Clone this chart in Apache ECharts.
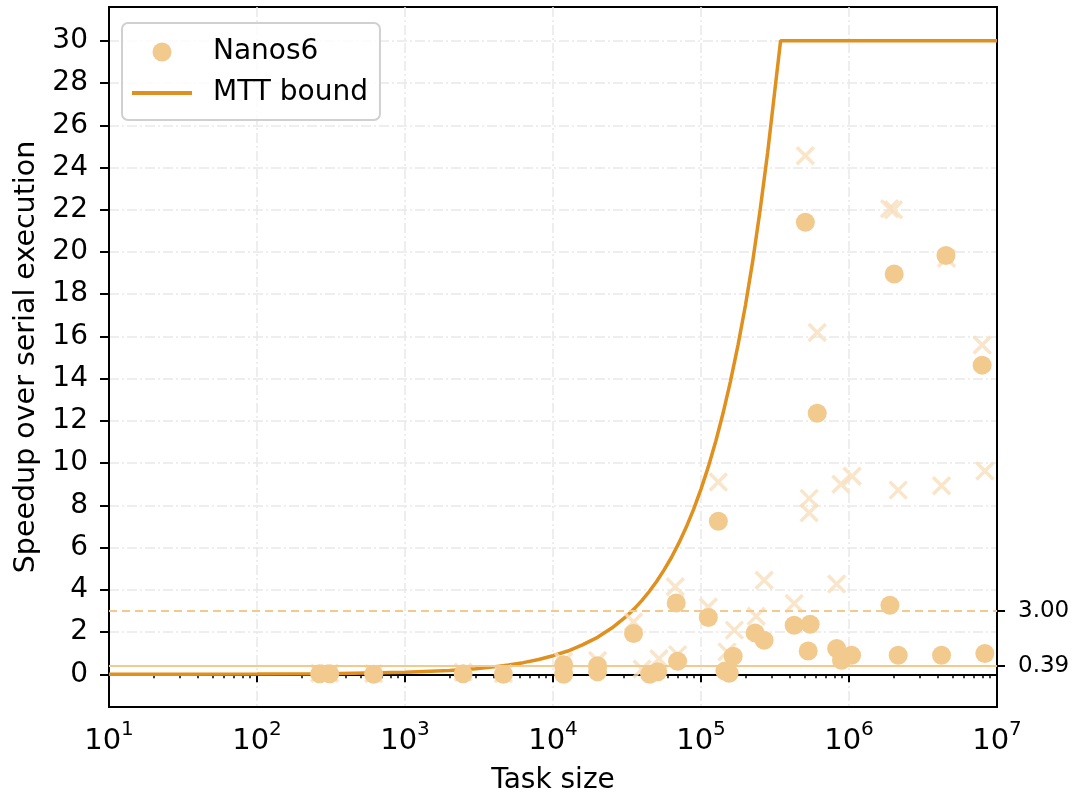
<!DOCTYPE html>
<html>
<head>
<meta charset="utf-8">
<script src="https://cdn.jsdelivr.net/npm/echarts@6/dist/echarts.min.js"></script>
<style>
html,body{margin:0;padding:0;background:#ffffff;}
#chart{width:1074px;height:795px;}
</style>
</head>
<body>
<div id="chart"></div>
<script>
// ---------------- data ----------------
const circleTaskSize = [265, 310, 614, 2470, 4620, 11800, 11800, 20000, 20000, 35000, 45000, 51000, 68000, 69500,
  112000, 131000, 145000, 155000, 165000, 232000, 267000, 426000, 507000, 530000, 546000, 610000,
  825000, 890000, 1040000, 1890000, 2020000, 2150000, 4220000, 4520000, 7940000, 8280000];
const circleSpeedup = [0.02, 0.02, 0.0, 0.02, 0.0, 0.45, 0.0, 0.4, 0.12, 1.93, 0.0, 0.12, 3.38, 0.62,
  2.69, 7.25, 0.15, 0.05, 0.85, 1.96, 1.61, 2.32, 21.41, 1.1, 2.37, 12.36,
  1.22, 0.66, 0.9, 3.27, 18.96, 0.9, 0.9, 19.83, 14.64, 0.98];

const crossTaskSize = [265, 310, 614, 2470, 4620, 11800, 20000, 35000, 40000, 52000, 67000, 69500, 112000,
  131000, 150000, 168000, 236000, 267000, 426000, 507000, 538000, 538000, 610000, 825000, 883000,
  1050000, 1880000, 2000000, 2150000, 4220000, 4560000, 7940000, 8280000];
const crossSpeedup = [0.05, 0.05, 0.02, 0.1, 0.02, 0.6, 0.65, 2.48, 0.25, 0.74, 4.14, 0.93, 3.19,
  9.11, 1.06, 2.09, 2.75, 4.45, 3.35, 24.56, 8.33, 7.65, 16.19, 4.27, 9.0,
  9.38, 22.05, 22.0, 8.72, 8.93, 19.7, 15.59, 9.63];

const boundTaskSize = [10, 30, 100, 300, 1000, 2000, 3000, 4000, 5000, 6300, 8000, 10000, 12600, 15800,
  20000, 25100, 31600, 35500, 39800, 44700, 50100, 56200, 63100, 70800, 79400, 89100, 100000, 112000,
  126000, 141000, 158000, 178000, 200000, 224000, 251000, 282000, 316000, 345000, 10000000];
const boundSpeedup = [0.0, 0.0, 0.01, 0.03, 0.09, 0.18, 0.26, 0.35, 0.44, 0.55, 0.7, 0.88, 1.1, 1.39,
  1.75, 2.2, 2.77, 3.11, 3.49, 3.92, 4.39, 4.93, 5.53, 6.21, 6.96, 7.81, 8.77, 9.82,
  11.05, 12.37, 13.86, 15.6, 17.5, 19.6, 22.0, 24.7, 27.7, 30.0, 30.0];

const refLineValues = [3.00, 0.39];
const yTickValues = [0, 2, 4, 6, 8, 10, 12, 14, 16, 18, 20, 22, 24, 26, 28, 30];
const xTickExponents = ['1', '2', '3', '4', '5', '6', '7'];
const minorTickMultipliers = [2, 3, 4, 5, 6, 7, 8, 9];
const minorTickDecades = [1, 2, 3, 4, 5, 6];

// ---------------- styles ----------------
const FONT = 'DejaVu Sans';
const lineColor = '#e0901e';
const circleColor = '#f2ca8e';
const crossColor = '#f7dfbd';
const refColor = '#f2ca8e';
const gridColor = '#e9e9e9';
const gridDash = [10, 3, 2, 3];

const zip = (a, b) => a.map((v, i) => [v, b[i]]);
const minorLogPositions = [];
minorTickDecades.forEach(d => minorTickMultipliers.forEach(m => minorLogPositions.push(Math.log10(m) + d)));

const chart = echarts.init(document.getElementById('chart'), null, {renderer: 'canvas'});
const option = {
  animation: false,
  backgroundColor: '#ffffff',
  textStyle: {fontFamily: FONT, color: '#000'},
  grid: {
    left: 109, right: 77, top: 7, bottom: 88,
    show: true, borderColor: '#000', borderWidth: 2, backgroundColor: 'transparent',
    outerBoundsMode: 'none'
  },
  legend: {
    orient: 'vertical',
    left: 122, top: 23,
    padding: [15, 12, 13, 10],
    itemGap: 13,
    itemWidth: 60, itemHeight: 19,
    backgroundColor: 'rgba(255,255,255,0.8)',
    borderColor: '#d0d0d0', borderWidth: 2, borderRadius: 6,
    textStyle: {fontFamily: FONT, fontSize: 28, color: '#000', padding: [0, 0, 0, 16]},
    data: [
      {name: 'Nanos6', icon: 'circle'},
      {name: 'MTT bound', icon: 'path://M0,0H60V4H0Z'}
    ]
  },
  xAxis: [
    {
      type: 'log', logBase: 10, min: 10, max: 10000000,
      position: 'bottom',
      name: 'Task size', nameLocation: 'middle', nameGap: 60,
      nameTextStyle: {fontFamily: FONT, fontSize: 28, color: '#000'},
      axisLine: {show: true, lineStyle: {color: '#000', width: 2}},
      axisTick: {show: true, length: 8, lineStyle: {color: '#000', width: 2}},
      axisLabel: {
        margin: 13,
        formatter: v => '{b|10}{s|' + xTickExponents[Math.round(Math.log10(v)) - 1] + '}',
        rich: {
          b: {fontFamily: FONT, fontSize: 29, color: '#000', verticalAlign: 'bottom', lineHeight: 36},
          s: {fontFamily: FONT, fontSize: 20, color: '#000', verticalAlign: 'top', lineHeight: 20}
        }
      },
      splitLine: {show: true, lineStyle: {color: gridColor, width: 1.5, type: gridDash}}
    },
    {
      type: 'value', min: 1, max: 7, position: 'bottom',
      axisLine: {show: false},
      axisTick: {show: true, length: 4, customValues: minorLogPositions, lineStyle: {color: '#000', width: 1.5}},
      axisLabel: {show: false},
      splitLine: {show: false}
    }
  ],
  yAxis: [
    {
      type: 'value', min: -1.55, max: 31.6, position: 'left',
      name: 'Speedup over serial execution', nameLocation: 'middle', nameGap: 65,
      nameTextStyle: {fontFamily: FONT, fontSize: 28.5, color: '#000'},
      axisLine: {show: true, lineStyle: {color: '#000', width: 2}},
      axisTick: {show: true, length: 9, customValues: yTickValues, lineStyle: {color: '#000', width: 2}},
      axisLabel: {customValues: yTickValues, margin: 21, fontFamily: FONT, fontSize: 28, color: '#000'},
      splitLine: {show: true, lineStyle: {color: gridColor, width: 1.5, type: gridDash}}
    },
    {
      type: 'value', min: -1.55, max: 31.6, position: 'right',
      axisLine: {show: true, lineStyle: {color: '#000', width: 2}},
      axisTick: {show: true, length: 8, customValues: refLineValues, lineStyle: {color: '#000', width: 2}},
      axisLabel: {customValues: refLineValues, margin: 21, fontFamily: FONT, fontSize: 23, color: '#000',
        formatter: v => v.toFixed(2)},
      splitLine: {show: false}
    }
  ],
  series: [
    {
      name: 'MTT bound', type: 'line', xAxisIndex: 0, yAxisIndex: 0,
      data: zip(boundTaskSize, boundSpeedup),
      symbol: 'none', showSymbol: false, smooth: false,
      color: lineColor,
      lineStyle: {color: lineColor, width: 3.5},
      z: 2,
      markLine: {
        silent: true, symbol: ['none', 'none'],
        label: {show: false},
        data: [
          {yAxis: refLineValues[0], lineStyle: {color: refColor, width: 2, type: [8, 5]}},
          {yAxis: refLineValues[1], lineStyle: {color: refColor, width: 2, type: 'solid'}}
        ]
      }
    },
    {
      name: 'crosses', type: 'scatter', xAxisIndex: 0, yAxisIndex: 0,
      data: zip(crossTaskSize, crossSpeedup),
      symbol: 'path://M0,0L10,10M10,0L0,10',
      symbolSize: 17,
      itemStyle: {color: 'rgba(0,0,0,0)', borderColor: crossColor, borderWidth: 3.5},
      z: 3
    },
    {
      name: 'Nanos6', type: 'scatter', xAxisIndex: 0, yAxisIndex: 0,
      data: zip(circleTaskSize, circleSpeedup),
      symbol: 'circle', symbolSize: 19,
      color: circleColor,
      itemStyle: {color: circleColor, opacity: 1},
      z: 4
    }
  ]
};
chart.setOption(option);
</script>
</body>
</html>
